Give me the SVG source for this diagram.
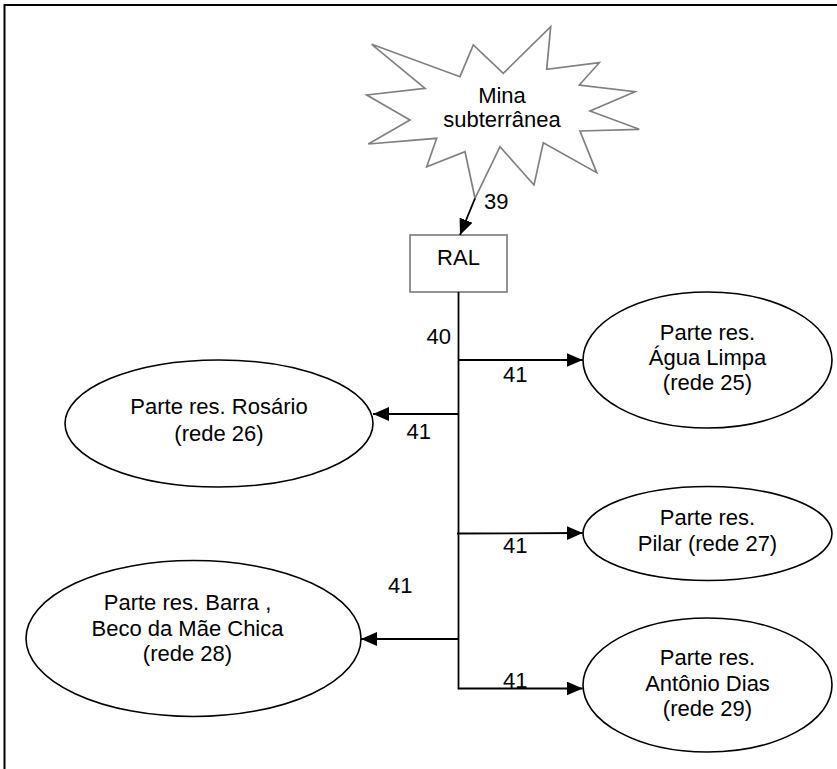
<svg xmlns="http://www.w3.org/2000/svg" width="837" height="769" viewBox="0 0 837 769">
<defs>
<style>
text{font-family:"Liberation Sans",Arial,sans-serif;font-size:22px;fill:#000}
.c{text-anchor:middle}
.ell{fill:#fff;stroke:#000;stroke-width:1.6}
.grey{fill:#fff;stroke:#808080;stroke-width:1.7}
.ln{fill:none;stroke:#000;stroke-width:1.8}
</style>
<marker id="ah" viewBox="0 0 16 14" refX="16" refY="7" markerWidth="16" markerHeight="14" markerUnits="userSpaceOnUse" orient="auto">
<path d="M0,0 L16,7 L0,14 Z" fill="#000"/>
</marker>
</defs>
<rect width="837" height="769" fill="#fff"/>
<path d="M4.5,769 V5 H837" fill="none" stroke="#000" stroke-width="2"/>
<g id="mina">
<polygon class="grey" points="550.7,26.7 546.7,69.3 599.3,62.7 579.3,85 635,91.7 590,111 639.3,129.3 580,131 596.7,172.7 543.3,142.7 534,185 500,146.7 475,198.3 465,151.7 426.7,166.7 436.7,138.3 368.3,144 410,120 366.7,95 425,88.3 371.7,44.3 460,76.7 473.3,45 503.3,73.3"/>
<text class="c" x="502" y="103">Mina</text>
<text class="c" x="502" y="127">subterrânea</text>
</g>
<g id="ral">
<rect class="grey" x="410" y="235" width="97" height="57"/>
<text class="c" x="458.5" y="265">RAL</text>
</g>
<g id="agua">
<ellipse class="ell" cx="707.5" cy="360" rx="124.5" ry="68"/>
<text class="c" x="707.5" y="340">Parte res.</text>
<text class="c" x="707.5" y="365">Água Limpa</text>
<text class="c" x="707.5" y="390">(rede 25)</text>
</g>
<g id="rosario">
<ellipse class="ell" cx="219" cy="423.5" rx="154" ry="63.5"/>
<text class="c" x="219" y="414">Parte res. Rosário</text>
<text class="c" x="219" y="441">(rede 26)</text>
</g>
<g id="pilar">
<ellipse class="ell" cx="707.5" cy="533.5" rx="124.5" ry="47"/>
<text class="c" x="707.5" y="525">Parte res.</text>
<text class="c" x="707.5" y="551">Pilar (rede 27)</text>
</g>
<g id="barra">
<ellipse class="ell" cx="193.5" cy="638.5" rx="167.5" ry="78"/>
<text class="c" x="187.5" y="610">Parte res. Barra ,</text>
<text class="c" x="187.5" y="636">Beco da Mãe Chica</text>
<text class="c" x="187.5" y="661">(rede 28)</text>
</g>
<g id="antonio">
<ellipse class="ell" cx="707.5" cy="685" rx="124.5" ry="67"/>
<text class="c" x="707.5" y="665">Parte res.</text>
<text class="c" x="707.5" y="691">Antônio Dias</text>
<text class="c" x="707.5" y="716">(rede 29)</text>
</g>
<g id="connectors">
<line class="ln" x1="475" y1="198.3" x2="460" y2="235" marker-end="url(#ah)"/>
<polyline class="ln" points="458.5,292 458.5,688.5 582.7,688.5" marker-end="url(#ah)"/>
<line class="ln" x1="458.5" y1="360" x2="582.7" y2="360" marker-end="url(#ah)"/>
<line class="ln" x1="458.5" y1="414" x2="373" y2="414" marker-end="url(#ah)"/>
<line class="ln" x1="457" y1="533.5" x2="582.7" y2="533" marker-end="url(#ah)"/>
<line class="ln" x1="458.5" y1="639" x2="361" y2="639" marker-end="url(#ah)"/>
<text x="484" y="209">39</text>
<text x="426.5" y="344">40</text>
<text x="503" y="382">41</text>
<text x="406.5" y="439">41</text>
<text x="503" y="553">41</text>
<text x="388" y="593">41</text>
<text x="503" y="688">41</text>
</g>
</svg>
